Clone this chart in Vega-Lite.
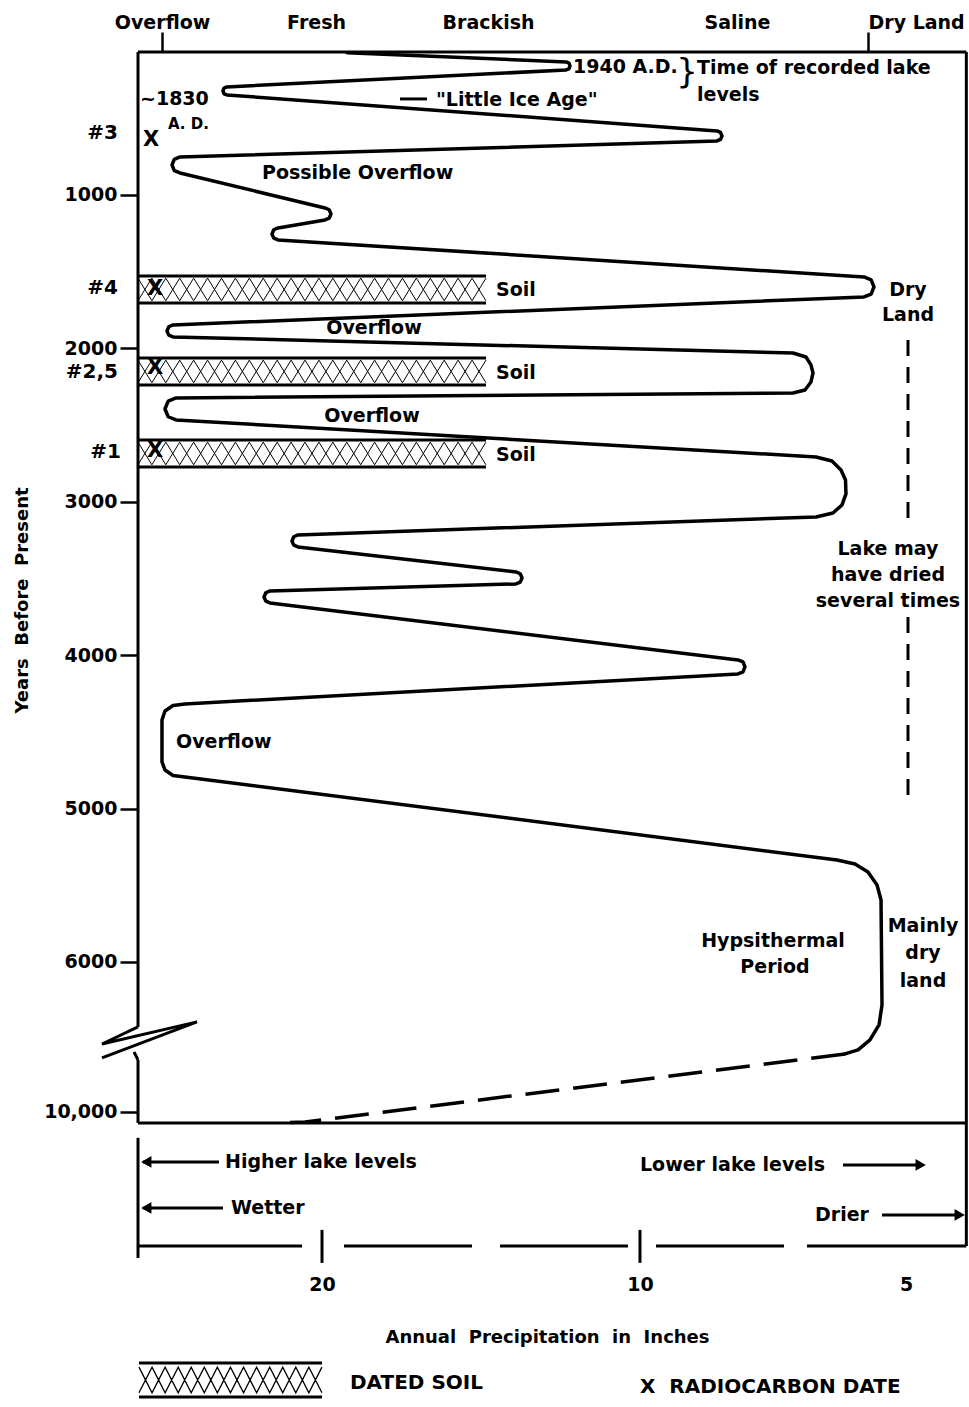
{
  "$schema": "https://vega.github.io/schema/vega-lite/v6.json",
  "autosize": {"type": "none"},
  "padding": {"left": 138, "top": 52, "right": 1, "bottom": 161},
  "width": 830,
  "height": 1194,
  "background": "white",
  "config": {"font": "DejaVu Sans", "view": {"stroke": null}},
  "resolve": {"axis": {"x": "independent", "y": "independent"}},
  "datasets": {
    "curve": [
      {"x": 25.2, "t": 73.0},
      {"x": 51.57, "t": 133.0}, {"x": 51.93, "t": 140.8}, {"x": 52.05, "t": 159.1}, {"x": 51.93, "t": 177.3}, {"x": 51.57, "t": 185.1},
      {"x": 10.72, "t": 296.0}, {"x": 10.36, "t": 303.8}, {"x": 10.24, "t": 322.0}, {"x": 10.36, "t": 340.3}, {"x": 10.72, "t": 348.1},
      {"x": 69.76, "t": 582.8}, {"x": 70.18, "t": 592.6}, {"x": 70.36, "t": 615.4}, {"x": 70.18, "t": 638.2}, {"x": 69.76, "t": 648.0},
      {"x": 5.06, "t": 752.3}, {"x": 4.37, "t": 767.3}, {"x": 4.10, "t": 804.4}, {"x": 4.37, "t": 841.6}, {"x": 5.06, "t": 856.6},
      {"x": 22.53, "t": 1084.8}, {"x": 23.04, "t": 1096.5}, {"x": 23.25, "t": 1123.9}, {"x": 23.04, "t": 1151.3}, {"x": 22.53, "t": 1163.0},
      {"x": 16.87, "t": 1215.1}, {"x": 16.36, "t": 1226.9}, {"x": 16.14, "t": 1254.2}, {"x": 16.36, "t": 1281.6}, {"x": 16.87, "t": 1293.4},
      {"x": 87.47, "t": 1534.6}, {"x": 88.33, "t": 1553.5}, {"x": 88.67, "t": 1599.8}, {"x": 88.33, "t": 1646.1}, {"x": 87.47, "t": 1665.0},
      {"x": 4.22, "t": 1847.5}, {"x": 3.71, "t": 1859.2}, {"x": 3.49, "t": 1886.6}, {"x": 3.71, "t": 1914.0}, {"x": 4.22, "t": 1925.7},
      {"x": 78.92, "t": 2030.0}, {"x": 80.48, "t": 2056.1}, {"x": 81.08, "t": 2108.2}, {"x": 81.33, "t": 2160.4}, {"x": 81.08, "t": 2219.1}, {"x": 80.36, "t": 2271.2}, {"x": 78.92, "t": 2290.8},
      {"x": 4.58, "t": 2323.4}, {"x": 3.64, "t": 2344.2}, {"x": 3.25, "t": 2395.1}, {"x": 3.64, "t": 2445.9}, {"x": 4.58, "t": 2466.8},
      {"x": 81.69, "t": 2708.0}, {"x": 83.61, "t": 2734.1}, {"x": 84.70, "t": 2792.7}, {"x": 85.24, "t": 2857.9}, {"x": 85.30, "t": 2949.2}, {"x": 84.82, "t": 3020.9}, {"x": 83.73, "t": 3073.1}, {"x": 81.69, "t": 3099.1},
      {"x": 19.28, "t": 3216.5}, {"x": 18.77, "t": 3228.2}, {"x": 18.55, "t": 3255.6}, {"x": 18.77, "t": 3282.9}, {"x": 19.28, "t": 3294.7},
      {"x": 45.54, "t": 3457.7}, {"x": 46.05, "t": 3469.4}, {"x": 46.27, "t": 3496.8}, {"x": 46.05, "t": 3524.2}, {"x": 45.54, "t": 3535.9},
      {"x": 15.90, "t": 3581.5}, {"x": 15.40, "t": 3593.3}, {"x": 15.18, "t": 3620.6}, {"x": 15.40, "t": 3648.0}, {"x": 15.90, "t": 3659.8},
      {"x": 72.29, "t": 4031.3}, {"x": 72.89, "t": 4044.4}, {"x": 73.13, "t": 4077.0}, {"x": 72.89, "t": 4109.6}, {"x": 72.29, "t": 4122.6},
      {"x": 5.66, "t": 4318.2}, {"x": 4.22, "t": 4328.0}, {"x": 3.25, "t": 4363.8}, {"x": 2.89, "t": 4422.5}, {"x": 2.89, "t": 4696.3}, {"x": 3.25, "t": 4748.4}, {"x": 4.22, "t": 4784.3}, {"x": 5.66, "t": 4794.1},
      {"x": 84.22, "t": 5335.2}, {"x": 86.39, "t": 5361.2}, {"x": 87.95, "t": 5413.4}, {"x": 89.04, "t": 5498.1}, {"x": 89.52, "t": 5595.9}, {"x": 89.64, "t": 6280.4}, {"x": 89.28, "t": 6410.8}, {"x": 88.19, "t": 6508.6}, {"x": 86.75, "t": 6573.8}, {"x": 85.18, "t": 6599.8}
    ],
    "curve_dashed": [
      {"x": 85.18, "t": 6599.8}, {"x": 20.12, "t": 7043.1}, {"x": 18.31, "t": 7046.4}
    ],
    "rules": [
      {"x": 0, "x2": 99.8, "t": 68, "t2": 68},
      {"x": 99.8, "x2": 99.8, "t": 68, "t2": 7852},
      {"x": 0, "x2": 0, "t": 68, "t2": 6424},
      {"x": 0, "x2": 0, "t": 6639, "t2": 7050},
      {"x": 0, "x2": 99.8, "t": 7050, "t2": 7050},
      {"x": 0, "x2": 0, "t": 7147, "t2": 7930},
      {"x": 0, "x2": 19.76, "t": 7852, "t2": 7852},
      {"x": 80.6, "x2": 99.8, "t": 7852, "t2": 7852},
      {"x": 22.17, "x2": 22.17, "t": 7747, "t2": 7962},
      {"x": 60.48, "x2": 60.48, "t": 7747, "t2": 7962},
      {"x": 31.57, "x2": 34.82, "t": 374, "t2": 374},
      {"x": 0, "x2": 41.93, "t": 1528.1, "t2": 1528.1},
      {"x": 0, "x2": 41.93, "t": 1704.1, "t2": 1704.1},
      {"x": 0, "x2": 41.93, "t": 2062.6, "t2": 2062.6},
      {"x": 0, "x2": 41.93, "t": 2238.6, "t2": 2238.6},
      {"x": 0, "x2": 41.93, "t": 2597.2, "t2": 2597.2},
      {"x": 0, "x2": 41.93, "t": 2773.2, "t2": 2773.2},
      {"x": 0.12, "x2": 22.17, "t": 8614, "t2": 8614},
      {"x": 0.12, "x2": 22.17, "t": 8836, "t2": 8836},
      {"x": 0.6, "x2": 9.76, "t": 7303.9, "t2": 7303.9},
      {"x": 0.6, "x2": 10.24, "t": 7603.8, "t2": 7603.8},
      {"x": 84.94, "x2": 94.0, "t": 7323.5, "t2": 7323.5},
      {"x": 89.64, "x2": 98.8, "t": 7649.4, "t2": 7649.4}
    ],
    "breakmark": [
      {"g": 1, "o": 1, "x": 0, "t": 6424},
      {"g": 1, "o": 2, "x": -4.34, "t": 6535},
      {"g": 1, "o": 3, "x": 7.11, "t": 6391},
      {"g": 1, "o": 4, "x": -4.34, "t": 6626},
      {"g": 2, "o": 1, "x": -0.48, "t": 6587},
      {"g": 2, "o": 2, "x": 0, "t": 6639}
    ],
    "dryline": [
      {"x": 92.77, "t": 1945, "t2": 3164},
      {"x": 92.77, "t": 3751, "t2": 4977}
    ],
    "soil": [
      {"soil": "#4", "x": 20.96, "t": 1616.1},
      {"soil": "#2,5", "x": 20.96, "t": 2150.6},
      {"soil": "#1", "x": 20.96, "t": 2685.2}
    ],
    "arrowheads": [
      {"x": 1.0, "t": 7303.9, "dir": "left"},
      {"x": 1.0, "t": 7603.8, "dir": "left"},
      {"x": 94.3, "t": 7323.5, "dir": "right"},
      {"x": 99.0, "t": 7649.4, "dir": "right"}
    ],
    "txt_left": [
      {"label": "1940 A.D.", "x": 52.41, "t": 165.6},
      {"label": "Time of recorded lake", "x": 67.35, "t": 172.1},
      {"label": "levels", "x": 67.35, "t": 348.1},
      {"label": "~1830", "x": 0.24, "t": 374.2},
      {"label": "\"Little Ice Age\"", "x": 35.9, "t": 380.7},
      {"label": "Possible Overflow", "x": 14.94, "t": 856.6},
      {"label": "Soil", "x": 43.13, "t": 1619.3},
      {"label": "Soil", "x": 43.13, "t": 2160.4},
      {"label": "Soil", "x": 43.13, "t": 2694.9},
      {"label": "Overflow", "x": 4.58, "t": 4565.9},
      {"label": "Higher lake levels", "x": 10.48, "t": 7303.9},
      {"label": "Wetter", "x": 11.2, "t": 7603.8},
      {"label": "Lower lake levels", "x": 60.48, "t": 7323.5},
      {"label": "Drier", "x": 81.57, "t": 7649.4}
    ],
    "legend_text": [
      {"label": "DATED SOIL", "x": 25.54, "t": 8744.6},
      {"label": "X\u00a0\u00a0RADIOCARBON\u00a0DATE", "x": 60.48, "t": 8770.7}
    ],
    "txt_center": [
      {"label": "Dry", "x": 92.77, "t": 1619.3},
      {"label": "Land", "x": 92.77, "t": 1782.3},
      {"label": "Overflow", "x": 28.43, "t": 1867.0},
      {"label": "Overflow", "x": 28.19, "t": 2440.7},
      {"label": "Lake may", "x": 90.36, "t": 3307.7},
      {"label": "have dried", "x": 90.36, "t": 3477.2},
      {"label": "several times", "x": 90.36, "t": 3646.7},
      {"label": "Hypsithermal", "x": 76.51, "t": 5863.2},
      {"label": "Period", "x": 76.75, "t": 6032.7},
      {"label": "Mainly", "x": 94.58, "t": 5765.4},
      {"label": "dry", "x": 94.58, "t": 5941.4},
      {"label": "land", "x": 94.58, "t": 6123.9}
    ],
    "txt_right": [
      {"label": "#3", "x": -2.41, "t": 595.8},
      {"label": "#4", "x": -2.41, "t": 1606.3},
      {"label": "#2,5", "x": -2.41, "t": 2153.9},
      {"label": "#1", "x": -2.05, "t": 2675.4}
    ],
    "dates": [
      {"sample": "#3", "x": 1.57, "t": 641.5},
      {"sample": "#4", "x": 2.05, "t": 1612.8},
      {"sample": "#2,5", "x": 2.05, "t": 2127.9},
      {"sample": "#1", "x": 2.05, "t": 2669.0}
    ],
    "small": [
      {"label": "A. D.", "x": 3.61, "t": 537.2}
    ],
    "brace": [
      {"label": "}", "x": 66.14, "t": 204.7}
    ],
    "legend_swatch": [
      {"x": 11.14, "t": 8725}
    ],
    "baseline_dashed": [
      {"x": 24.82, "x2": 78.19, "t": 7852}
    ]
  },
  "layer": [
    {
      "data": {"name": "curve"},
      "mark": {"type": "line", "color": "black", "strokeWidth": 3.5, "strokeJoin": "round", "strokeCap": "round"},
      "encoding": {
        "x": {
          "field": "x", "type": "quantitative",
          "scale": {"domain": [0, 100], "nice": false, "zero": false},
          "axis": {
            "orient": "top", "title": null,
            "values": [2.9, 21.45, 42.17, 72.17, 87.95],
            "labelExpr": "datum.value < 5 ? 'Overflow' : datum.value < 30 ? 'Fresh' : datum.value < 50 ? 'Brackish' : datum.value < 80 ? 'Saline' : 'Dry Land'",
            "domain": false, "grid": false,
            "tickSize": 20, "tickWidth": 2.5,
            "tickColor": {"condition": {"test": "datum.value < 5 || datum.value > 85", "value": "black"}, "value": "transparent"},
            "labelAlign": {"condition": {"test": "datum.value > 85", "value": "left"}, "value": "center"},
            "labelPadding": 0, "labelFontSize": 19, "labelFontWeight": "bold", "labelColor": "black",
            "labelFlush": false, "labelOverlap": false
          }
        },
        "y": {
          "field": "t", "type": "quantitative",
          "scale": {"domain": [68, 7852], "reverse": true, "nice": false, "zero": false},
          "axis": {
            "orient": "left", "title": "Years\u00a0\u00a0Before\u00a0\u00a0Present",
            "values": [1000, 2000, 3000, 4000, 5000, 6000, 6978],
            "labelExpr": "datum.value > 6500 ? '10,000' : '' + datum.value",
            "domain": false, "grid": false,
            "tickSize": 18, "tickWidth": 2.5, "tickColor": "black",
            "labelPadding": 3, "labelFontSize": 19, "labelFontWeight": "bold", "labelColor": "black",
            "labelFlush": false, "labelOverlap": false,
            "titleFontSize": 18, "titleFontWeight": "bold", "titleColor": "black",
            "titleX": -116, "titleY": 548, "titleAngle": -90, "titleBaseline": "middle", "titleAlign": "center"
          }
        },
        "order": {"field": "t", "type": "quantitative"}
      }
    },
    {
      "data": {"name": "curve_dashed"},
      "mark": {"type": "line", "color": "black", "strokeWidth": 3.5, "strokeDash": [34, 14]},
      "encoding": {
        "x": {"field": "x", "type": "quantitative", "axis": null},
        "y": {"field": "t", "type": "quantitative", "axis": null},
        "order": {"field": "t", "type": "quantitative"}
      }
    },
    {
      "data": {"name": "rules"},
      "mark": {"type": "rule", "color": "black", "strokeWidth": 3},
      "encoding": {
        "x": {"field": "x", "type": "quantitative", "axis": null},
        "x2": {"field": "x2"},
        "y": {"field": "t", "type": "quantitative", "axis": null},
        "y2": {"field": "t2"}
      }
    },
    {
      "data": {"name": "baseline_dashed"},
      "mark": {"type": "rule", "color": "black", "strokeWidth": 3, "strokeDash": [128, 28]},
      "encoding": {
        "x": {
          "field": "x", "type": "quantitative",
          "axis": {
            "orient": "bottom", "title": "Annual\u00a0\u00a0Precipitation\u00a0\u00a0in\u00a0\u00a0Inches",
            "values": [22.17, 60.48, 92.53],
            "labelExpr": "datum.value < 30 ? '20' : datum.value < 70 ? '10' : '5'",
            "domain": false, "grid": false, "ticks": false,
            "labelPadding": 29, "labelFontSize": 19, "labelFontWeight": "bold", "labelColor": "black",
            "labelFlush": false, "labelOverlap": false,
            "titleFontSize": 18, "titleFontWeight": "bold", "titleColor": "black",
            "titleX": 409, "titleY": 91, "titleBaseline": "middle", "titleAlign": "center"
          }
        },
        "x2": {"field": "x2"},
        "y": {"field": "t", "type": "quantitative", "axis": null}
      }
    },
    {
      "data": {"name": "dryline"},
      "mark": {"type": "rule", "color": "black", "strokeWidth": 3, "strokeDash": [16, 11]},
      "encoding": {
        "x": {"field": "x", "type": "quantitative", "axis": null},
        "y": {"field": "t", "type": "quantitative", "axis": null},
        "y2": {"field": "t2"}
      }
    },
    {
      "data": {"name": "breakmark"},
      "mark": {"type": "line", "color": "black", "strokeWidth": 3, "strokeJoin": "miter"},
      "encoding": {
        "x": {"field": "x", "type": "quantitative", "axis": null},
        "y": {"field": "t", "type": "quantitative", "axis": null},
        "detail": {"field": "g", "type": "nominal"},
        "order": {"field": "o", "type": "quantitative"}
      }
    },
    {
      "data": {"name": "soil"},
      "mark": {
        "type": "point", "filled": false, "stroke": "black", "strokeWidth": 1.0, "opacity": 1, "size": 121104,
        "shape": "M-1,-0.065L-0.92,0.065L-0.84,-0.065L-0.76,0.065L-0.68,-0.065L-0.6,0.065L-0.52,-0.065L-0.44,0.065L-0.36,-0.065L-0.28,0.065L-0.2,-0.065L-0.12,0.065L-0.04,-0.065L0.04,0.065L0.12,-0.065L0.2,0.065L0.28,-0.065L0.36,0.065L0.44,-0.065L0.52,0.065L0.6,-0.065L0.68,0.065L0.76,-0.065L0.84,0.065L0.92,-0.065L1,0.065M-1,0.065L-0.92,-0.065L-0.84,0.065L-0.76,-0.065L-0.68,0.065L-0.6,-0.065L-0.52,0.065L-0.44,-0.065L-0.36,0.065L-0.28,-0.065L-0.2,0.065L-0.12,-0.065L-0.04,0.065L0.04,-0.065L0.12,0.065L0.2,-0.065L0.28,0.065L0.36,-0.065L0.44,0.065L0.52,-0.065L0.6,0.065L0.68,-0.065L0.76,0.065L0.84,-0.065L0.92,0.065L1,-0.065"
      },
      "encoding": {
        "x": {"field": "x", "type": "quantitative", "axis": null},
        "y": {"field": "t", "type": "quantitative", "axis": null}
      }
    },
    {
      "data": {"name": "legend_swatch"},
      "mark": {
        "type": "point", "filled": false, "stroke": "black", "strokeWidth": 1.3, "opacity": 1, "size": 33489,
        "shape": "M-1,-0.14L-0.857,0.14L-0.714,-0.14L-0.571,0.14L-0.429,-0.14L-0.286,0.14L-0.143,-0.14L0,0.14L0.143,-0.14L0.286,0.14L0.429,-0.14L0.571,0.14L0.714,-0.14L0.857,0.14L1,-0.14M-1,0.14L-0.857,-0.14L-0.714,0.14L-0.571,-0.14L-0.429,0.14L-0.286,-0.14L-0.143,0.14L0,-0.14L0.143,0.14L0.286,-0.14L0.429,0.14L0.571,-0.14L0.714,0.14L0.857,-0.14L1,0.14"
      },
      "encoding": {
        "x": {"field": "x", "type": "quantitative", "axis": null},
        "y": {"field": "t", "type": "quantitative", "axis": null}
      }
    },
    {
      "data": {"name": "arrowheads"},
      "mark": {"type": "point", "filled": true, "color": "black", "opacity": 1, "size": 140},
      "encoding": {
        "x": {"field": "x", "type": "quantitative", "axis": null},
        "y": {"field": "t", "type": "quantitative", "axis": null},
        "shape": {"field": "dir", "type": "nominal", "scale": {"domain": ["left", "right"], "range": ["triangle-left", "triangle-right"]}, "legend": null}
      }
    },
    {
      "data": {"name": "txt_left"},
      "mark": {"type": "text", "align": "left", "baseline": "middle", "fontSize": 19, "fontWeight": "bold", "color": "black"},
      "encoding": {
        "x": {"field": "x", "type": "quantitative", "axis": null},
        "y": {"field": "t", "type": "quantitative", "axis": null},
        "text": {"field": "label"}
      }
    },
    {
      "data": {"name": "legend_text"},
      "mark": {"type": "text", "align": "left", "baseline": "middle", "fontSize": 20, "fontWeight": "bold", "color": "black"},
      "encoding": {
        "x": {"field": "x", "type": "quantitative", "axis": null},
        "y": {"field": "t", "type": "quantitative", "axis": null},
        "text": {"field": "label"}
      }
    },
    {
      "data": {"name": "txt_center"},
      "mark": {"type": "text", "align": "center", "baseline": "middle", "fontSize": 19, "fontWeight": "bold", "color": "black"},
      "encoding": {
        "x": {"field": "x", "type": "quantitative", "axis": null},
        "y": {"field": "t", "type": "quantitative", "axis": null},
        "text": {"field": "label"}
      }
    },
    {
      "data": {"name": "txt_right"},
      "mark": {"type": "text", "align": "right", "baseline": "middle", "fontSize": 20, "fontWeight": "bold", "color": "black"},
      "encoding": {
        "x": {"field": "x", "type": "quantitative", "axis": null},
        "y": {"field": "t", "type": "quantitative", "axis": null},
        "text": {"field": "label"}
      }
    },
    {
      "data": {"name": "dates"},
      "mark": {"type": "text", "align": "center", "baseline": "middle", "fontSize": 21, "fontWeight": "bold", "color": "black", "text": "X"},
      "encoding": {
        "x": {"field": "x", "type": "quantitative", "axis": null},
        "y": {"field": "t", "type": "quantitative", "axis": null}
      }
    },
    {
      "data": {"name": "small"},
      "mark": {"type": "text", "align": "left", "baseline": "middle", "fontSize": 15, "fontWeight": "bold", "color": "black"},
      "encoding": {
        "x": {"field": "x", "type": "quantitative", "axis": null},
        "y": {"field": "t", "type": "quantitative", "axis": null},
        "text": {"field": "label"}
      }
    },
    {
      "data": {"name": "brace"},
      "mark": {"type": "text", "align": "center", "baseline": "middle", "fontSize": 34, "fontWeight": "normal", "color": "black"},
      "encoding": {
        "x": {"field": "x", "type": "quantitative", "axis": null},
        "y": {"field": "t", "type": "quantitative", "axis": null},
        "text": {"field": "label"}
      }
    }
  ]
}
